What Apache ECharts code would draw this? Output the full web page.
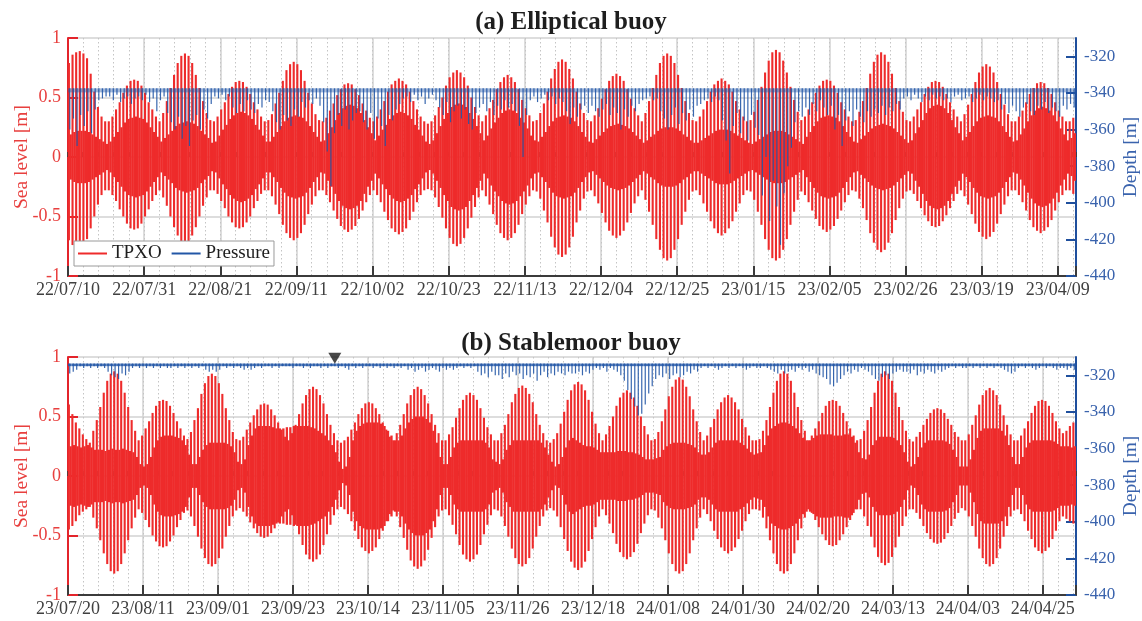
<!DOCTYPE html>
<html>
<head>
<meta charset="utf-8">
<title>Sea level and mooring depth</title>
<style>
  html, body { margin: 0; padding: 0; background: #ffffff; }
  #chart { width: 1142px; height: 621px; }
</style>
<script src="https://cdn.jsdelivr.net/npm/echarts@6/dist/echarts.min.js"></script>
</head>
<body>
<div id="chart"></div>
<script>
// ---------------------------------------------------------------------------
// Deployment windows (x axis in days since the first sample)
// ---------------------------------------------------------------------------
const startA = Date.UTC(2022, 6, 10);       // (a) 2022-07-10 00:00
const startB = Date.UTC(2023, 6, 20, 12);   // (b) 2023-07-20 12:00
const spanA = 278;                          // days shown in (a)
const spanB = 289;                          // days shown in (b)
const tickStepA = 21;                       // days between date labels (a)
const tickStepB = 21.5;                     // days between date labels (b)
const seaTicks = [-1, -0.5, 0, 0.5, 1];
const depthTicks = [-440, -420, -400, -380, -360, -340, -320];
const seriesNames = ['TPXO', 'Pressure'];

// ---------------------------------------------------------------------------
// (a) Elliptical buoy — daily TPXO tide range (cm) and pressure-derived depth (m)
// tpxoHigh / tpxoLow: highest and lowest water of the day
// tpxoCore: half-range of the smaller tide of the day
// ---------------------------------------------------------------------------
const tpxoHighA = [
  79,86,88,89,87,83,70,55,42,34,30,
  30,34,40,46,54,60,64,65,64,60,54,46,40,34,30,
  37,47,58,69,79,85,87,85,79,69,58,47,37,31,
  30,34,40,46,53,59,63,64,63,59,53,46,40,34,30,
  31,36,45,54,64,73,78,80,78,73,64,54,45,36,31,
  30,33,39,45,52,57,61,62,61,57,52,45,39,33,30,
  34,40,47,55,61,64,66,64,61,55,47,40,34,30,
  28,30,35,42,50,60,67,71,73,71,67,60,50,42,35,30,
  35,41,48,57,63,67,69,67,63,57,48,41,35,30,
  31,37,45,55,66,74,80,82,80,74,66,55,45,37,31,
  30,35,41,49,57,64,68,70,68,64,57,49,41,35,30,
  37,47,58,69,79,85,87,85,79,69,58,47,37,31,
  30,34,40,47,55,61,64,66,64,61,55,47,40,34,30,
  31,38,48,59,71,81,88,90,88,81,71,59,48,38,31,
  34,40,46,54,60,64,65,64,60,54,46,40,34,30,
  31,38,47,58,70,80,86,88,86,80,70,58,47,38,31,
  30,34,40,46,53,59,63,64,63,59,53,46,40,34,30,
  36,44,53,63,71,76,78,76,71,63,53,44,36,30,
  30,34,39,46,53,58,62,63,62,58,53,46,39,34,30,30,33
];
const tpxoLowA = [
  -70,-74,-76,-76,-74,-69,-60,-50,-40,-32,-28,
  -28,-32,-37,-44,-50,-56,-60,-61,-60,-56,-50,-44,-37,-32,-28,
  -34,-41,-50,-59,-66,-71,-73,-71,-66,-59,-50,-41,-34,-28,
  -28,-31,-37,-43,-50,-55,-59,-60,-59,-55,-50,-43,-37,-31,-28,
  -28,-33,-40,-48,-57,-64,-68,-70,-68,-64,-57,-48,-40,-33,-28,
  -28,-32,-38,-45,-52,-58,-61,-63,-61,-58,-52,-45,-38,-32,-28,
  -32,-38,-46,-53,-60,-63,-65,-63,-60,-53,-46,-38,-32,-28,
  -27,-28,-34,-42,-51,-60,-68,-73,-75,-73,-68,-60,-51,-42,-34,-28,
  -33,-40,-48,-57,-64,-68,-70,-68,-64,-57,-48,-40,-33,-28,
  -29,-35,-45,-55,-67,-76,-82,-84,-82,-76,-67,-55,-45,-35,-29,
  -28,-33,-39,-47,-55,-62,-66,-68,-66,-62,-55,-47,-39,-33,-28,
  -36,-46,-57,-69,-78,-85,-87,-85,-78,-69,-57,-46,-36,-29,
  -28,-32,-39,-46,-54,-60,-64,-66,-64,-60,-54,-46,-39,-32,-28,
  -29,-36,-46,-57,-69,-78,-85,-87,-85,-78,-69,-57,-46,-36,-29,
  -32,-38,-45,-52,-58,-61,-63,-61,-58,-52,-45,-38,-32,-28,
  -29,-35,-43,-53,-64,-72,-78,-80,-78,-72,-64,-53,-43,-35,-29,
  -28,-31,-37,-43,-49,-54,-58,-59,-58,-54,-49,-43,-37,-31,-28,
  -33,-40,-48,-56,-63,-67,-69,-67,-63,-56,-48,-40,-33,-28,
  -28,-32,-38,-45,-53,-59,-62,-64,-62,-59,-53,-45,-38,-32,-28,-28,-31
];
const tpxoCoreA = [
  19,21,22,22,22,21,19,17,15,13,11,
  13,17,21,25,29,32,33,34,33,32,29,25,21,17,13,
  16,19,22,26,28,29,30,29,28,26,22,19,16,12,
  13,18,23,27,32,35,37,38,37,35,32,27,23,18,13,
  13,17,21,26,30,33,34,35,34,33,30,26,21,17,13,
  14,20,25,31,37,41,43,44,43,41,37,31,25,20,14,
  18,23,27,32,35,37,38,37,35,32,27,23,18,13,
  11,14,20,26,32,37,42,44,45,44,42,37,32,26,20,14,
  18,24,29,33,37,39,40,39,37,33,29,24,18,14,
  13,17,21,26,30,33,34,35,34,33,30,26,21,17,13,
  12,15,18,21,24,26,27,28,27,26,24,21,18,15,12,
  14,17,19,22,24,25,25,25,24,22,19,17,14,12,
  12,14,16,18,20,22,23,23,23,22,20,18,16,14,12,
  11,13,15,17,19,21,22,22,22,21,19,17,15,13,11,
  17,21,26,30,33,34,35,34,33,30,26,21,17,13,
  12,15,18,21,24,26,27,28,27,26,24,21,18,15,12,
  14,20,25,31,37,41,43,44,43,41,37,31,25,20,14,
  17,21,26,30,33,34,35,34,33,30,26,21,17,13,
  14,19,24,30,35,39,41,42,41,39,35,30,24,19,14,16,20
];
// Deepest pressure-derived depth of each day (m); the mooring top sits near -337.5 m
const pressureTopA = -337.5;
const pressureDipA = [
  -360,-354,-369,-352,-358,-350,-362,-349,
  -344,-343,-342,
  -342,-344,-341,-345,-343,-342,-346,-343,-342,-344,-341,-345,-343,-350,-344,-342,
  -351,-356,-360,-353,-365,-358,-369,-355,-352,-360,-349,-354,-346,
  -342,-343,-341,-344,-342,
  -348,-351,-346,-350,-344,-349,-351,-346,-348,-344,-345,
  -350,-356,-360,-352,-355,-358,-349,-353,
  -345,-348,-344,-346,-343,-347,
  -356,-372,-391,-362,
  -352,-358,-349,-360,-355,-351,-350,
  -356,-360,-351,-365,-354,-358,-369,-352,-355,-349,-346,
  -343,-342,-345,-341,-344,-342,-346,-343,-341,-344,
  -348,-352,-345,-356,-350,-347,-354,-349,-357,-360,-351,-348,
  -346,-350,-345,-352,-347,-349,-344,-348,-346,
  -350,-358,-375,-352,
  -344,-342,-345,-343,-341,-344,-342,-346,-343,-345,
  -350,-357,-348,-353,-349,-347,-351,
  -347,-350,-353,-349,-346,-352,-348,-351,-360,-349,-353,-347,-350,-346,-344,
  -343,-342,-344,-343,
  -350,-354,-360,-352,-348,-357,-351,-355,-349,-353,-347,-346,
  -344,-343,-345,-342,-344,
  -355,-366,-384,-358,-351,-362,-355,-366,-352,-359,-363,
  -396,-375,-410,-388,-402,-423,-395,-380,-370,
  -356,-350,-353,-348,-352,-346,-350,-344,-348,-352,-347,
  -360,-352,-369,-355,-350,-358,-349,-353,
  -356,-350,-353,-349,-351,-347,-352,-348,-350,-346,-349,
  -343,-342,-344,-341,-343,-345,-342,-344,-341,-343,-342,-344,-343,-345,-342,-341,-344,-343,-342,-345,-343,-341,-344,-342,-343,-345,-344,
  -349,-346,-351,-347,-350,-353,-348,-346,-350,-352,-347,-349,-345,-351,-348,-350,-353,-347,-349,-346,-348
];

// ---------------------------------------------------------------------------
// (b) Stablemoor buoy
// ---------------------------------------------------------------------------
const tpxoHighB = [
  60,52,45,40,35,31,28,
  38,47,58,70,80,86,88,86,80,70,58,47,38,
  30,34,40,46,53,59,63,64,63,59,53,46,40,34,
  31,37,47,57,69,78,84,86,84,78,69,57,47,37,31,
  30,33,39,45,51,56,60,61,60,56,51,45,39,33,30,
  36,43,52,61,68,73,75,73,68,61,52,43,36,30,
  28,30,33,39,45,52,57,61,62,61,57,52,45,39,33,
  30,36,43,52,61,68,73,75,73,68,61,52,43,36,30,
  30,35,41,49,57,64,68,70,68,64,57,49,41,35,30,
  30,36,43,52,62,69,74,76,74,69,62,52,43,36,30,
  28,31,36,44,54,64,72,77,79,77,72,64,54,44,36,
  30,35,42,50,59,66,70,72,70,66,59,50,42,35,30,
  31,37,46,56,67,75,81,83,81,75,67,56,46,37,
  30,34,41,48,56,62,66,68,66,62,56,48,41,34,30,30,
  31,38,47,58,70,80,86,88,86,80,70,58,47,38,
  30,34,40,46,53,59,63,64,63,59,53,46,40,34,30,
  31,38,47,58,70,80,86,88,86,80,70,58,47,38,31,
  29,33,37,43,48,53,56,57,56,53,48,43,37,33,30,
  30,35,43,51,60,68,72,74,72,68,60,51,43,35,30,
  30,34,40,46,53,59,63,64,63,59,53,46,40,36,38,42,45
];
const tpxoLowB = [
  -45,-42,-38,-33,-30,-28,-26,
  -35,-44,-54,-65,-74,-80,-82,-80,-74,-65,-54,-44,-35,
  -28,-31,-37,-43,-50,-55,-59,-60,-59,-55,-50,-43,-37,-31,
  -29,-34,-42,-51,-61,-69,-74,-76,-74,-69,-61,-51,-42,-34,-29,
  -27,-30,-34,-39,-44,-48,-51,-52,-51,-48,-44,-39,-34,-30,-28,
  -33,-41,-49,-58,-66,-70,-72,-70,-66,-58,-49,-41,-33,-28,
  -26,-28,-32,-38,-46,-53,-60,-63,-65,-63,-60,-53,-46,-38,-32,
  -29,-34,-43,-52,-62,-71,-76,-78,-76,-71,-62,-52,-43,-34,-29,
  -28,-33,-41,-49,-58,-66,-70,-72,-70,-66,-58,-49,-41,-33,-28,
  -29,-34,-42,-51,-61,-69,-74,-76,-74,-69,-61,-51,-42,-34,-29,
  -27,-29,-34,-43,-53,-63,-72,-77,-79,-77,-72,-63,-53,-43,-34,
  -28,-33,-40,-48,-57,-64,-68,-70,-68,-64,-57,-48,-40,-33,-28,
  -29,-35,-44,-54,-65,-74,-80,-82,-80,-74,-65,-54,-44,-35,
  -28,-32,-38,-46,-53,-60,-63,-65,-63,-60,-53,-46,-38,-32,-28,-28,
  -29,-35,-44,-54,-65,-74,-80,-82,-80,-74,-65,-54,-44,-35,
  -28,-31,-37,-43,-49,-54,-58,-59,-58,-54,-49,-43,-37,-31,-28,
  -28,-34,-42,-51,-60,-68,-73,-75,-73,-68,-60,-51,-42,-34,-28,
  -28,-31,-36,-42,-48,-53,-56,-57,-56,-53,-48,-42,-36,-31,-27,
  -29,-34,-42,-51,-61,-69,-74,-76,-74,-69,-61,-51,-42,-34,-29,
  -28,-32,-38,-46,-53,-60,-63,-65,-63,-60,-53,-46,-38,-34,-36,-38,-40
];
const tpxoCoreB = [
  25,26,25,24,25,26,24,22,22,
  22,21,22,23,22,22,23,22,21,20,
  16,10,8,10,16,
  24,30,33,34,34,34,33,32,30,26,
  18,10,10,16,
  22,26,28,28,28,28,28,27,25,20,
  12,10,14,
  26,34,40,42,42,42,42,41,40,40,
  40,41,41,42,42,42,42,42,41,40,38,36,34,30,26,20,12,
  6,8,16,
  30,38,42,44,45,45,45,45,44,42,38,34,
  30,30,34,40,
  45,48,50,50,50,48,45,38,28,
  16,10,10,16,
  24,28,30,30,30,30,30,30,30,28,24,
  14,12,10,14,
  22,26,30,30,30,30,30,30,30,30,28,24,18,12,
  8,10,16,
  24,30,32,30,28,26,25,25,24,
  22,20,20,20,
  20,20,21,21,21,20,20,19,18,16,
  14,14,14,15,16,
  22,25,27,28,28,28,28,27,26,24,
  20,18,18,20,
  24,28,30,30,30,30,30,30,28,26,23,
  20,18,19,20,26,
  34,40,42,44,45,45,44,42,40,36,
  32,30,30,
  32,34,35,35,35,35,34,34,
  34,35,35,33,28,20,
  15,14,18,
  26,30,33,33,33,33,32,30,26,20,
  12,8,10,16,
  24,28,30,30,30,30,30,29,27,22,16,
  8,8,8,14,22,
  32,38,40,40,40,40,40,38,34,26,
  16,10,10,16,
  24,28,30,30,30,30,30,30,29,27,25,
  25,25,24,25
];
const pressureTopB = -313.6;
const pressureDipB = [
  -319,-318,-317,
  -315,-316,-315,-316,-315,-316,-315,-316,
  -318,-320,-321,-322,-319,-320,-318,
  -316,-315,-316,-315,-316,-315,-316,-315,-316,-315,-316,-316,-315,-316,-315,-316,-315,-316,-315,-316,-315,
  -317,-318,-317,-318,-317,
  -315,-316,-315,-316,-315,
  -316,-317,-316,-317,-316,
  -315,-316,-315,-315,-316,-315,-316,-315,-315,-315,
  -316,-315,-315,-316,-315,-316,-315,-315,-316,-315,-316,-315,-315,-316,-315,-316,-317,-315,-316,-315,-316,-315,-315,-316,-315,-316,-315,-316,-315,-316,-315,-316,-315,
  -317,-316,-318,-317,-316,-318,-317,-316,-317,-318,-316,-317,-316,-317,
  -316,-315,-316,-315,-316,-315,
  -318,-320,-319,-321,-318,-320,
  -320,-322,-319,-321,-318,-320,-319,-322,-320,-321,-319,-323,-320,-318,-321,-319,-320,-318,-319,-320,-318,-319,
  -319,-318,-320,-318,-319,-317,
  -316,-317,-316,-318,-316,-317,-318,-320,-323,
  -328,-333,-337,-342,-341,-336,-330,-326,
  -322,-320,-321,-319,-322,-320,-319,-321,-320,-318,-319,-317,-318,
  -316,-315,-316,-315,-316,-317,-316,-315,-316,-315,-316,-315,-316,-317,-316,-315,-316,
  -316,-315,-316,-317,
  -318,-319,-317,-319,-318,-317,-318,
  -316,-317,-316,-318,-317,-319,-320,-321,
  -322,-325,-326,-324,-322,-320,
  -318,-319,-317,-318,-316,-317,
  -318,-320,-322,-323,-321,-320,-322,-319,-318,
  -317,-318,
  -318,-319,-317,-320,-318,-319,-317,-318,-319,-317,-318,-317,
  -316,-315,-316,-315,-316,
  -316,-315,-316,-315,-316,-315,-316,-315,-316,-315,-316,-317,
  -318,-319,-318,
  -316,-315,-316,-315,-316,-317,-316,-315,-316,-315,-316,-317,-316,-316,-317,-316,-317
];
// Recovery event marked on the (b) record
const eventDatesB = ['2023-10-05'];

// ---------------------------------------------------------------------------
// Styling
// ---------------------------------------------------------------------------
const RED = '#ee2b2b';
const RED_AXIS = '#e3242b';
const RED_TEXT = '#e8403f';
const BLUE = '#2256a6';
const BLUE_AXIS = '#1f4f9d';
const BLUE_TEXT = '#3a63ad';
const GRID = '#d2d2d2';
const INK = '#3b3b3b';
const FONT = '"Times New Roman", "Liberation Serif", "DejaVu Serif", serif';
const DAY = 86400000;

function pad2(n) { return String(n).padStart(2, '0'); }
function dateLabel(start, step) {
  return function (v) {
    const k = v / step;
    if (Math.abs(k - Math.round(k)) > 1e-6) return '';
    const d = new Date(start + v * DAY);
    return pad2(d.getUTCFullYear() % 100) + '/' + pad2(d.getUTCMonth() + 1) + '/' + pad2(d.getUTCDate());
  };
}

function tideRows(hi, lo, core) {
  return hi.map((h, i) => [i + 0.5, lo[i] / 100, h / 100, core[i] / 100]);
}
function pressureRows(dips) {
  return dips.map((d, i) => [i + 0.5, d]);
}

// one tidal day: a stroke over the full daily range, and a stroke for the smaller tide half a day later
function renderTide(params, api) {
  const x = api.value(0), lo = api.value(1), hi = api.value(2), c = api.value(3);
  const top = api.coord([x - 0.25, hi]);
  const bot = api.coord([x - 0.25, lo]);
  const ct = api.coord([x + 0.25, c]);
  const cb = api.coord([x + 0.25, -c]);
  return {
    type: 'group',
    children: [
      { type: 'line', shape: { x1: ct[0], y1: ct[1], x2: cb[0], y2: cb[1] },
        style: { stroke: RED, lineWidth: 2.3 } },
      { type: 'line', shape: { x1: top[0], y1: top[1], x2: bot[0], y2: bot[1] },
        style: { stroke: RED, lineWidth: 2.1 } }
    ]
  };
}

function renderPressure(topDepth, bandDepth, bandOpacity) {
  return function (params, api) {
    const x = api.value(0), dip = api.value(1);
    const a = api.coord([x, topDepth]);
    const b = api.coord([x, dip]);
    const r1 = api.coord([x - 0.5, topDepth]);
    const r2 = api.coord([x + 0.5, topDepth - bandDepth]);
    return {
      type: 'group',
      children: [
        { type: 'rect', shape: { x: r1[0], y: r1[1], width: r2[0] - r1[0], height: r2[1] - r1[1] },
          style: { fill: BLUE, opacity: bandOpacity } },
        { type: 'line', shape: { x1: a[0], y1: a[1], x2: b[0], y2: b[1] },
          style: { stroke: BLUE, lineWidth: 1.2, opacity: 0.9 } }
      ]
    };
  };
}

function majorX(grid, span, step, start) {
  return {
    type: 'value', gridIndex: grid, min: 0, max: span, interval: step, position: 'bottom',
    axisLine: { show: true, onZero: false, lineStyle: { color: INK, width: 2 } },
    axisTick: { show: true, inside: true, length: 10, lineStyle: { color: INK, width: 2 } },
    axisLabel: { show: true, margin: 5, color: '#404040', fontFamily: FONT, fontSize: 18,
                 formatter: dateLabel(start, step) },
    splitLine: { show: true, lineStyle: { color: GRID, width: 1.5 } }
  };
}
function minorX(grid, span, step) {
  return {
    type: 'value', gridIndex: grid, min: 0, max: span, interval: step / 5, position: 'bottom',
    axisLine: { show: false },
    axisTick: { show: true, inside: true, length: 5, lineStyle: { color: INK, width: 1.5 } },
    axisLabel: { show: false },
    splitLine: { show: true, lineStyle: { color: '#c4c4c4', width: 1, type: [1.5, 2.5] } }
  };
}
function seaY(grid) {
  return {
    type: 'value', gridIndex: grid, min: -1, max: 1, interval: 0.5, position: 'left',
    axisLine: { show: true, onZero: false, lineStyle: { color: RED_AXIS, width: 2 } },
    axisTick: { show: true, inside: true, length: 10, customValues: seaTicks, lineStyle: { color: RED_AXIS, width: 2 } },
    axisLabel: { color: RED_TEXT, fontFamily: FONT, fontSize: 18, margin: 7, customValues: seaTicks },
    splitLine: { show: true, lineStyle: { color: GRID, width: 1.5 } },
    name: 'Sea level [m]', nameLocation: 'middle', nameGap: 36, nameRotate: 90, nameMoveOverlap: false,
    nameTextStyle: { color: RED_TEXT, fontFamily: FONT, fontSize: 19.5 }
  };
}
function depthY(grid) {
  return {
    type: 'value', gridIndex: grid, min: -440, max: -310, interval: 20, position: 'right',
    axisLine: { show: true, onZero: false, lineStyle: { color: BLUE_AXIS, width: 2 } },
    axisTick: { show: true, inside: true, length: 10, customValues: depthTicks, lineStyle: { color: BLUE_AXIS, width: 2 } },
    axisLabel: { color: BLUE_TEXT, fontFamily: FONT, fontSize: 17, margin: 8, customValues: depthTicks },
    splitLine: { show: false },
    name: 'Depth [m]', nameLocation: 'middle', nameGap: 45, nameRotate: 90, nameMoveOverlap: false,
    nameTextStyle: { color: BLUE_TEXT, fontFamily: FONT, fontSize: 19.5 }
  };
}

const eventRows = eventDatesB.map(s => [(Date.parse(s + 'T00:00:00Z') - startB) / DAY, 0.99]);

const chart = echarts.init(document.getElementById('chart'), null, { renderer: 'canvas' });
chart.setOption({
  animation: false,
  backgroundColor: '#ffffff',
  title: [
    { text: '(a) Elliptical buoy', left: 'center', top: 5,
      textStyle: { fontFamily: FONT, fontWeight: 'bold', fontSize: 25, color: '#1e1e1e' } },
    { text: '(b) Stablemoor buoy', left: 'center', top: 326,
      textStyle: { fontFamily: FONT, fontWeight: 'bold', fontSize: 25, color: '#1e1e1e' } }
  ],
  legend: {
    data: seriesNames, left: 74, top: 241, orient: 'horizontal',
    icon: 'rect', itemWidth: 29, itemHeight: 2, itemGap: 10,
    padding: [3, 4, 3, 4], backgroundColor: '#ffffff', borderColor: '#9a9a9a', borderWidth: 1,
    textStyle: { fontFamily: FONT, fontSize: 19, color: '#1e1e1e' }
  },
  grid: [
    { left: 68, right: 66, top: 38, height: 238, outerBoundsMode: 'none', containLabel: false },
    { left: 68, right: 66, top: 357, height: 238, outerBoundsMode: 'none', containLabel: false }
  ],
  xAxis: [
    majorX(0, spanA, tickStepA, startA),
    minorX(0, spanA, tickStepA),
    majorX(1, spanB, tickStepB, startB),
    minorX(1, spanB, tickStepB)
  ],
  yAxis: [seaY(0), depthY(0), seaY(1), depthY(1)],
  series: [
    { name: seriesNames[0], type: 'custom', xAxisIndex: 0, yAxisIndex: 0, clip: true, z: 2,
      itemStyle: { color: RED }, renderItem: renderTide,
      encode: { x: 0, y: [1, 2] }, data: tideRows(tpxoHighA, tpxoLowA, tpxoCoreA) },
    { name: seriesNames[1], type: 'custom', xAxisIndex: 0, yAxisIndex: 1, clip: true, z: 3,
      itemStyle: { color: BLUE }, renderItem: renderPressure(pressureTopA, 2.2, 0.45),
      encode: { x: 0, y: 1 }, data: pressureRows(pressureDipA) },
    { name: seriesNames[0], type: 'custom', xAxisIndex: 2, yAxisIndex: 2, clip: true, z: 2,
      itemStyle: { color: RED }, renderItem: renderTide,
      encode: { x: 0, y: [1, 2] }, data: tideRows(tpxoHighB, tpxoLowB, tpxoCoreB) },
    { name: seriesNames[1], type: 'custom', xAxisIndex: 2, yAxisIndex: 3, clip: true, z: 3,
      itemStyle: { color: BLUE }, renderItem: renderPressure(pressureTopB, 1.4, 0.85),
      encode: { x: 0, y: 1 }, data: pressureRows(pressureDipB) },
    { name: 'event', type: 'scatter', xAxisIndex: 2, yAxisIndex: 2, clip: false, z: 5,
      symbol: 'triangle', symbolRotate: 180, symbolSize: [13, 11],
      itemStyle: { color: '#1a1a1a' }, data: eventRows }
  ]
});
</script>
</body>
</html>
